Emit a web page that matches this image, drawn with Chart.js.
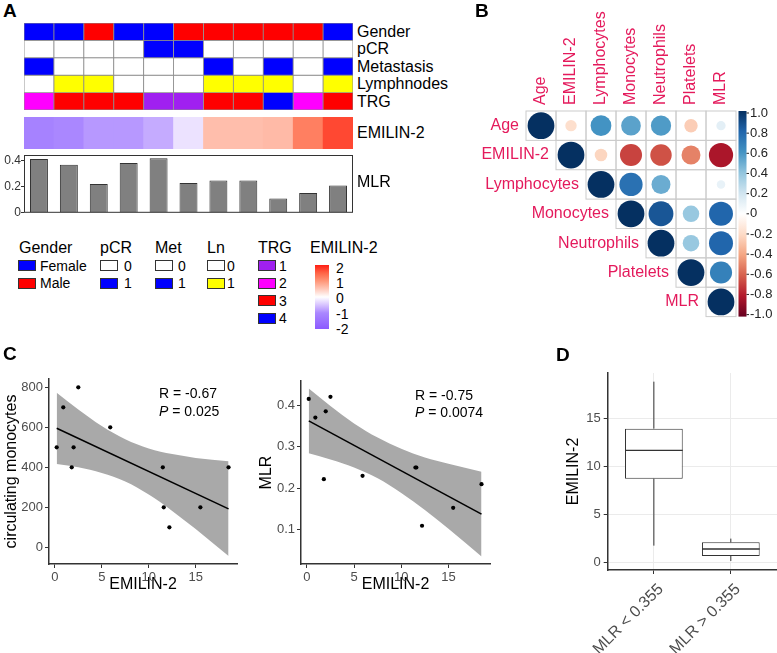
<!DOCTYPE html>
<html>
<head>
<meta charset="utf-8">
<title>EMILIN-2 figure</title>
<script src="https://cdn.jsdelivr.net/npm/chart.js@4.4.1/dist/chart.umd.min.js"></script>
<style>
  body { margin: 0; background: #fff; font-family: "Liberation Sans", Arial, sans-serif; color: #111; }
  #fig { position: relative; width: 777px; height: 653px; overflow: hidden; }
  #fig canvas { position: absolute; }
  .t { position: absolute; white-space: nowrap; line-height: 1; transform: translateY(-50%); }
  .sw { position: absolute; width: 16px; height: 9px; border: 1px solid #333; }
</style>
</head>
<body>
<div id="fig">
  <canvas id="annot" width="329" height="87" style="left:24px;top:23px"></canvas>
  <canvas id="emilinRow" width="329" height="32" style="left:24px;top:117px"></canvas>
  <canvas id="mlrBars" width="354" height="75" style="left:0;top:145px"></canvas>
  <canvas id="corr" width="317" height="330" style="left:460px;top:0"></canvas>
  <canvas id="scMono" width="250" height="248" style="left:0;top:350px"></canvas>
  <canvas id="scMlr" width="247" height="248" style="left:255px;top:350px"></canvas>
  <canvas id="box" width="219" height="313" style="left:558px;top:340px"></canvas>
</div>
<script>
// patients, ordered by EMILIN-2 level
const samples = ['S1', 'S2', 'S3', 'S4', 'S5', 'S6', 'S7', 'S8', 'S9', 'S10', 'S11'];
const gender = ['Female', 'Female', 'Male', 'Female', 'Female', 'Male', 'Male', 'Male', 'Male', 'Male', 'Female'];
const pCR = [0, 0, 0, 0, 1, 1, 0, 0, 0, 0, 0];
const metastasis = [1, 0, 0, 0, 0, 0, 1, 0, 1, 0, 1];
const lymphnodes = [0, 1, 1, 0, 0, 0, 1, 1, 1, 0, 1];
const trg = [2, 3, 3, 3, 1, 1, 3, 3, 4, 2, 3];
const emilinZ = [-1.12, -1.0, -0.86, -0.86, -0.7, -0.24, 0.6, 0.6, 0.64, 1.23, 1.7];
const mlr = [0.415, 0.37, 0.222, 0.385, 0.42, 0.23, 0.25, 0.25, 0.11, 0.153, 0.21];
const mlrTicks = [0, 0.2, 0.4];

// scatter panels
const emilin2 = [0.2, 0.9, 1.8, 2.0, 2.5, 5.9, 11.5, 11.6, 12.2, 15.5, 18.5];
const monocytes = [500, 700, 400, 500, 800, 600, 400, 200, 100, 200, 400];
const fitX = [0.2, 18.5];
const monoFit = [595, 192];
const mlrFit = [0.362, 0.138];
const bandX = [0.2, 2.5, 5, 7.5, 10, 12.5, 15, 18.5];
const monoUpper = [773, 689, 606, 540, 494, 466, 447, 430];
const monoLower = [417, 400, 372, 329, 264, 182, 91, -44];
const mlrUpper = [0.44, 0.398, 0.356, 0.322, 0.295, 0.274, 0.259, 0.24];
const mlrLower = [0.284, 0.269, 0.25, 0.224, 0.189, 0.148, 0.103, 0.036];
const emilinTicks = [0, 5, 10, 15];
const monoTicks = [0, 200, 400, 600, 800];
const mlrScatterTicks = [0.1, 0.2, 0.3, 0.4];

// boxplot
const boxGroups = ['MLR < 0.355', 'MLR > 0.355'];
const boxLow = [1.77, 0.18];
const boxQ1 = [8.72, 0.7];
const boxMed = [11.66, 1.42];
const boxQ3 = [13.92, 2.12];
const boxHigh = [18.8, 2.5];
const boxTicks = [0, 5, 10, 15];

// correlation matrix, upper triangle, each row starts on the diagonal
const corrVars = ['Age', 'EMILIN-2', 'Lymphocytes', 'Monocytes', 'Neutrophils', 'Platelets', 'MLR'];
const corrAge = [1, -0.18, 0.6, 0.54, 0.57, -0.25, 0.12];
const corrEmilin = [1, -0.22, -0.68, -0.64, -0.5, -0.82];
const corrLymph = [1, 0.75, 0.5, 0, 0.1];
const corrMono = [1, 0.86, 0.38, 0.8];
const corrNeut = [1, 0.38, 0.8];
const corrPlat = [1, 0.68];
const corrMlr = [1];
const corrTicks = ['1.0', '0.8', '0.6', '0.4', '0.2', '0', '-0.2', '-0.4', '-0.6', '-0.8', '-1.0'];

const FONT = '"Liberation Sans", Arial, sans-serif';
const PINK = '#E41A5C';
Chart.defaults.font.family = FONT;
Chart.defaults.color = '#4d4d4d';
Chart.defaults.animation = false;
Chart.defaults.responsive = false;
Chart.defaults.plugins.legend.display = false;
Chart.defaults.plugins.tooltip.enabled = false;

const fig = document.getElementById('fig');
function text(str, x, y, size, opts = {}) {
  const el = document.createElement('div');
  el.className = 't';
  el.innerHTML = str;
  el.style.left = x + 'px';
  el.style.top = y + 'px';
  el.style.fontSize = size + 'px';
  if (opts.right) el.style.transform = 'translate(-100%,-50%)';
  if (opts.bold) el.style.fontWeight = 'bold';
  if (opts.color) el.style.color = opts.color;
  fig.appendChild(el);
}
function swatch(x, y, color) {
  const el = document.createElement('div');
  el.className = 'sw';
  el.style.left = x + 'px';
  el.style.top = y + 'px';
  el.style.background = color;
  fig.appendChild(el);
}

// colour scales
const zStops = [[-2, [140, 90, 255]], [-1, [170, 135, 255]], [-0.5, [215, 195, 255]], [0, [255, 255, 255]],
  [0.5, [255, 200, 185]], [1, [255, 150, 120]], [1.5, [255, 100, 70]], [2, [255, 30, 20]]];
const rdbuHex = ['#67001F', '#B2182B', '#D6604D', '#F4A582', '#FDDBC7', '#FFFFFF',
  '#D1E5F0', '#92C5DE', '#4393C3', '#2166AC', '#053061'];
const rdbuStops = rdbuHex.map((h, i) => [-1 + i * 0.2,
  [parseInt(h.slice(1, 3), 16), parseInt(h.slice(3, 5), 16), parseInt(h.slice(5, 7), 16)]]);

function ramp(stops, v) {
  if (v <= stops[0][0]) return `rgb(${stops[0][1]})`;
  for (let i = 1; i < stops.length; i++) {
    if (v <= stops[i][0]) {
      const [a, ca] = stops[i - 1], [b, cb] = stops[i];
      const t = (v - a) / (b - a);
      return `rgb(${ca.map((c, k) => Math.round(c + t * (cb[k] - c))).join(',')})`;
    }
  }
  return `rgb(${stops[stops.length - 1][1]})`;
}

const frame = {
  id: 'frame',
  afterDatasetsDraw(chart, args, opts) {
    const { ctx, chartArea: a } = chart;
    ctx.save();
    ctx.strokeStyle = opts.color || '#333';
    ctx.lineWidth = 1;
    ctx.strokeRect(a.left + 0.5, a.top + 0.5, a.width - 1, a.height - 1);
    ctx.restore();
  }
};

// ---------- A: annotation heatmap ----------
const annotRows = [
  [gender, { Female: '#0000FF', Male: '#FF0000' }],
  [pCR, { 0: '#FFFFFF', 1: '#0000FF' }],
  [metastasis, { 0: '#FFFFFF', 1: '#0000FF' }],
  [lymphnodes, { 0: '#FFFFFF', 1: '#FFFF00' }],
  [trg, { 1: '#A020F0', 2: '#FF00FF', 3: '#FF0000', 4: '#0000FF' }]
];

new Chart(document.getElementById('annot'), {
  type: 'bar',
  data: {
    labels: samples,
    datasets: annotRows.map(([vals, pal]) => ({
      data: vals.map(() => 1),
      backgroundColor: vals.map(v => pal[v]),
      borderColor: '#8c8c8c',
      borderWidth: 0.8,
      borderSkipped: false,
      barPercentage: 1,
      categoryPercentage: 1
    }))
  },
  options: {
    layout: { padding: 0 },
    scales: {
      x: { display: false, stacked: true },
      y: { display: false, stacked: true, reverse: true, min: 0, max: annotRows.length }
    }
  }
});

new Chart(document.getElementById('emilinRow'), {
  type: 'bar',
  data: {
    labels: samples,
    datasets: [{
      data: emilinZ.map(() => 1),
      backgroundColor: emilinZ.map(z => ramp(zStops, z)),
      borderWidth: 0,
      barPercentage: 1,
      categoryPercentage: 1
    }]
  },
  options: {
    layout: { padding: 0 },
    scales: { x: { display: false }, y: { display: false, min: 0, max: 1 } }
  }
});

new Chart(document.getElementById('mlrBars'), {
  type: 'bar',
  data: {
    labels: samples,
    datasets: [{
      data: mlr,
      backgroundColor: '#808080',
      borderColor: '#333',
      borderWidth: 1,
      barPercentage: 0.6,
      categoryPercentage: 1
    }]
  },
  options: {
    layout: { padding: { top: 10, right: 1, bottom: 7, left: 0 } },
    plugins: { frame: { color: '#333' } },
    scales: {
      x: { display: false },
      y: {
        min: 0, max: 0.446,
        afterBuildTicks: s => { s.ticks = mlrTicks.map(v => ({ value: v })); },
        afterFit: s => { s.width = 24; },
        ticks: { font: { size: 12 }, color: '#333', padding: 0, callback: v => String(v) },
        grid: { drawOnChartArea: false, tickLength: 3, tickColor: '#333' },
        border: { display: false }
      }
    }
  },
  plugins: [frame]
});

// row labels of A
text('Gender', 357, 31.5, 16, { color: '#000' });
text('pCR', 357, 49, 16, { color: '#000' });
text('Metastasis', 357, 66.5, 16, { color: '#000' });
text('Lymphnodes', 357, 84, 16, { color: '#000' });
text('TRG', 357, 101.5, 16, { color: '#000' });
text('EMILIN-2', 357, 133, 16, { color: '#000' });
text('MLR', 357, 182, 16, { color: '#000' });

// legend of A
const legTitleY = 247.5;
const legRowY = [260, 277.5, 295, 312.5];
text('Gender', 19, legTitleY, 16, { color: '#000' });
swatch(18, legRowY[0], '#0000FF'); text('Female', 40, legRowY[0] + 5.5, 14, { color: '#000' });
swatch(18, legRowY[1], '#FF0000'); text('Male', 40, legRowY[1] + 5.5, 14, { color: '#000' });
text('pCR', 100, legTitleY, 16, { color: '#000' });
swatch(100, legRowY[0], '#FFFFFF'); text('0', 124, legRowY[0] + 5.5, 14, { color: '#000' });
swatch(100, legRowY[1], '#0000FF'); text('1', 124, legRowY[1] + 5.5, 14, { color: '#000' });
text('Met', 155, legTitleY, 16, { color: '#000' });
swatch(155, legRowY[0], '#FFFFFF'); text('0', 178, legRowY[0] + 5.5, 14, { color: '#000' });
swatch(155, legRowY[1], '#0000FF'); text('1', 178, legRowY[1] + 5.5, 14, { color: '#000' });
text('Ln', 207, legTitleY, 16, { color: '#000' });
swatch(207, legRowY[0], '#FFFFFF'); text('0', 227, legRowY[0] + 5.5, 14, { color: '#000' });
swatch(207, legRowY[1], '#FFFF00'); text('1', 227, legRowY[1] + 5.5, 14, { color: '#000' });
text('TRG', 258, legTitleY, 16, { color: '#000' });
['#A020F0', '#FF00FF', '#FF0000', '#0000FF'].forEach((c, i) => {
  swatch(258, legRowY[i], c);
  text(String(i + 1), 279, legRowY[i] + 5.5, 14, { color: '#000' });
});
text('EMILIN-2', 310, legTitleY, 16, { color: '#000' });
const bar = document.createElement('div');
bar.style.cssText = 'position:absolute;left:315px;top:265px;width:14px;height:64px;background:linear-gradient(to top,' +
  zStops.map(([z]) => ramp(zStops, z) + ' ' + ((z + 2) / 4 * 100) + '%').join(',') + ')';
fig.appendChild(bar);
['2', '1', '0', '-1', '-2'].forEach((s, i) => text(s, 336, 268 + i * 15.2, 14, { color: '#000' }));

// ---------- B: correlation plot ----------
const corrRows = [corrAge, corrEmilin, corrLymph, corrMono, corrNeut, corrPlat, corrMlr];
const corrPoints = [];
corrRows.forEach((row, i) => row.forEach((v, k) => corrPoints.push({ x: corrVars[i + k], y: corrVars[i], v })));

const corrDeco = {
  id: 'corrDeco',
  beforeDatasetsDraw(chart) {
    const { ctx, scales: { x, y } } = chart;
    const hx = (x.getPixelForValue(1) - x.getPixelForValue(0)) / 2;
    const hy = (y.getPixelForValue(1) - y.getPixelForValue(0)) / 2;
    ctx.save();
    ctx.strokeStyle = '#cccccc';
    ctx.lineWidth = 1;
    corrRows.forEach((row, i) => row.forEach((v, k) => {
      const cx = x.getPixelForValue(i + k), cy = y.getPixelForValue(i);
      ctx.strokeRect(cx - hx, cy - hy, 2 * hx, 2 * hy);
    }));
    ctx.restore();
  },
  afterDraw(chart) {
    const { ctx, chartArea: a, scales: { x, y } } = chart;
    const hx = (x.getPixelForValue(1) - x.getPixelForValue(0)) / 2;
    ctx.save();
    ctx.fillStyle = PINK;
    ctx.font = '16px ' + FONT;
    ctx.textBaseline = 'middle';
    corrVars.forEach((name, j) => {
      ctx.save();
      ctx.translate(x.getPixelForValue(j), a.top - 6);
      ctx.rotate(-Math.PI / 2);
      ctx.textAlign = 'left';
      ctx.fillText(name, 0, 0);
      ctx.restore();
      ctx.textAlign = 'right';
      ctx.fillText(name, x.getPixelForValue(j) - hx - 7, y.getPixelForValue(j));
    });
    // colour bar
    const bx = a.right + 2.5, bw = 8;
    const g = ctx.createLinearGradient(0, a.top, 0, a.bottom);
    rdbuStops.forEach(([v]) => g.addColorStop((1 - v) / 2, ramp(rdbuStops, v)));
    ctx.fillStyle = g;
    ctx.fillRect(bx, a.top, bw, a.height);
    ctx.fillStyle = '#222';
    ctx.strokeStyle = '#222';
    ctx.font = '13px ' + FONT;
    ctx.textAlign = 'left';
    corrTicks.forEach((s, i) => {
      const ty = a.top + 2 + i * (a.height - 4) / (corrTicks.length - 1);
      ctx.beginPath();
      ctx.moveTo(bx + bw, ty);
      ctx.lineTo(bx + bw + 2.5, ty);
      ctx.stroke();
      ctx.fillText(s, bx + bw + 3.5, ty);
    });
    ctx.restore();
  }
};

new Chart(document.getElementById('corr'), {
  type: 'scatter',
  data: {
    datasets: [{
      data: corrPoints,
      pointRadius: c => 13.4 * Math.sqrt(Math.abs(c.raw.v)),
      pointBackgroundColor: c => ramp(rdbuStops, c.raw.v),
      pointBorderWidth: 0,
      pointBorderColor: 'rgba(0,0,0,0)'
    }]
  },
  options: {
    layout: { padding: { left: 66, top: 111, right: 41, bottom: 9 } },
    scales: {
      x: { type: 'category', labels: corrVars, offset: true, display: false },
      y: { type: 'category', labels: corrVars, offset: true, display: false }
    }
  },
  plugins: [corrDeco]
});

// ---------- C: scatter plots ----------
function axisTitle(t) {
  return { display: true, text: t, color: '#000', font: { size: 16 } };
}
function scatterPanel(id, ys, fitYs, upper, lower, yMin, yMax, yTicks, yTitle, yWidth, padTop, padRight) {
  return new Chart(document.getElementById(id), {
    type: 'line',
    data: {
      datasets: [
        { data: emilin2.map((x, i) => ({ x, y: ys[i] })), showLine: false, pointRadius: 2.1,
          pointBackgroundColor: '#000', pointBorderColor: '#000', pointBorderWidth: 0, order: 0 },
        { data: fitX.map((x, i) => ({ x, y: fitYs[i] })), borderColor: '#000', borderWidth: 1.5,
          pointRadius: 0, order: 1 },
        { data: bandX.map((x, i) => ({ x, y: upper[i] })), borderColor: 'rgba(0,0,0,0)', borderWidth: 0,
          pointRadius: 0, fill: '+1', backgroundColor: '#A9A9A9', cubicInterpolationMode: 'monotone', order: 2 },
        { data: bandX.map((x, i) => ({ x, y: lower[i] })), borderColor: 'rgba(0,0,0,0)', borderWidth: 0,
          pointRadius: 0, fill: false, cubicInterpolationMode: 'monotone', order: 3 }
      ]
    },
    options: {
      layout: { padding: { top: padTop, right: padRight, left: 0, bottom: 0 } },
      scales: {
        x: {
          type: 'linear', min: -0.62, max: 19.4,
          afterBuildTicks: s => { s.ticks = emilinTicks.map(v => ({ value: v })); },
          afterFit: s => { s.height = 34; },
          ticks: { font: { size: 13 }, color: '#4d4d4d', padding: 2, maxRotation: 0 },
          grid: { drawOnChartArea: false, tickLength: 4, tickColor: '#333' },
          border: { color: '#333', width: 1.5 },
          title: { ...axisTitle('EMILIN-2'), padding: { top: 0, bottom: 4 } }
        },
        y: {
          min: yMin, max: yMax,
          afterBuildTicks: s => { s.ticks = yTicks.map(v => ({ value: v })); },
          afterFit: s => { s.width = yWidth; },
          ticks: { font: { size: 13 }, color: '#4d4d4d', padding: 2, callback: v => String(v) },
          grid: { drawOnChartArea: false, tickLength: 4, tickColor: '#333' },
          border: { color: '#333', width: 1.5 },
          title: { ...axisTitle(yTitle), padding: { top: 2, bottom: 0 } }
        }
      }
    }
  });
}

scatterPanel('scMono', monocytes, monoFit, monoUpper, monoLower, -83.5, 841.5, monoTicks,
  'circulating monocytes', 49, 29, 13);
scatterPanel('scMlr', mlr, mlrFit, mlrUpper, mlrLower, 0.018, 0.458, mlrScatterTicks,
  'MLR', 46, 31, 12);

text('R = -0.67', 159, 393, 14, { color: '#000' });
text('<i>P</i> = 0.025', 159, 410.5, 14, { color: '#000' });
text('R = -0.75', 415, 395, 14, { color: '#000' });
text('<i>P</i> = 0.0074', 415, 411.5, 14, { color: '#000' });

// ---------- D: boxplot ----------
const BOX_HALF = 0.375;
const whiskerSegs = boxGroups.flatMap((g, i) => [
  { x: i + 1, y: boxLow[i] }, { x: i + 1, y: boxQ1[i] }, { x: i + 1, y: null },
  { x: i + 1, y: boxQ3[i] }, { x: i + 1, y: boxHigh[i] }, { x: i + 1, y: null }
]);
const medianSegs = boxGroups.flatMap((g, i) => [
  { x: i + 1 - BOX_HALF, y: boxMed[i] }, { x: i + 1 + BOX_HALF, y: boxMed[i] }, { x: i + 1, y: null }
]);

new Chart(document.getElementById('box'), {
  type: 'bar',
  data: {
    datasets: [
      { type: 'line', data: medianSegs, borderColor: '#333', borderWidth: 1.3, pointRadius: 0, spanGaps: false, order: 0 },
      { type: 'bar', data: boxGroups.map((g, i) => ({ x: i + 1, y: [boxQ1[i], boxQ3[i]] })),
        backgroundColor: '#fff', borderColor: '#333', borderWidth: 1, borderSkipped: false,
        barPercentage: 0.75, categoryPercentage: 1, order: 1 },
      { type: 'line', data: whiskerSegs, borderColor: '#333', borderWidth: 1, pointRadius: 0, spanGaps: false, order: 2 }
    ]
  },
  options: {
    layout: { padding: { top: 33, right: 0, left: 0, bottom: 0 } },
    scales: {
      x: {
        type: 'linear', min: 0.4, max: 2.6, offset: false,
        afterBuildTicks: s => { s.ticks = boxGroups.map((g, i) => ({ value: i + 1 })); },
        afterFit: s => { s.height = 83; },
        ticks: { font: { size: 16 }, color: '#4d4d4d', padding: 6, labelOffset: 7,
          minRotation: 45, maxRotation: 45, callback: v => boxGroups[v - 1] },
        grid: { offset: false, color: '#ebebeb', tickLength: 4, tickColor: '#333' },
        border: { color: '#333', width: 1.5 }
      },
      y: {
        min: -0.76, max: 19.7,
        afterBuildTicks: s => { s.ticks = boxTicks.map(v => ({ value: v })); },
        afterFit: s => { s.width = 49.7; },
        ticks: { font: { size: 13 }, color: '#4d4d4d', padding: 3 },
        grid: { color: '#ebebeb', tickLength: 4, tickColor: '#333' },
        border: { color: '#333', width: 1.5 },
        title: { ...axisTitle('EMILIN-2'), padding: { top: 6, bottom: 0 } }
      }
    }
  }
});

// panel letters
text('A', 3, 10, 19, { bold: true, color: '#000' });
text('B', 475, 10, 19, { bold: true, color: '#000' });
text('C', 3, 352.5, 19, { bold: true, color: '#000' });
text('D', 556, 353.5, 19, { bold: true, color: '#000' });
</script>
</body>
</html>
